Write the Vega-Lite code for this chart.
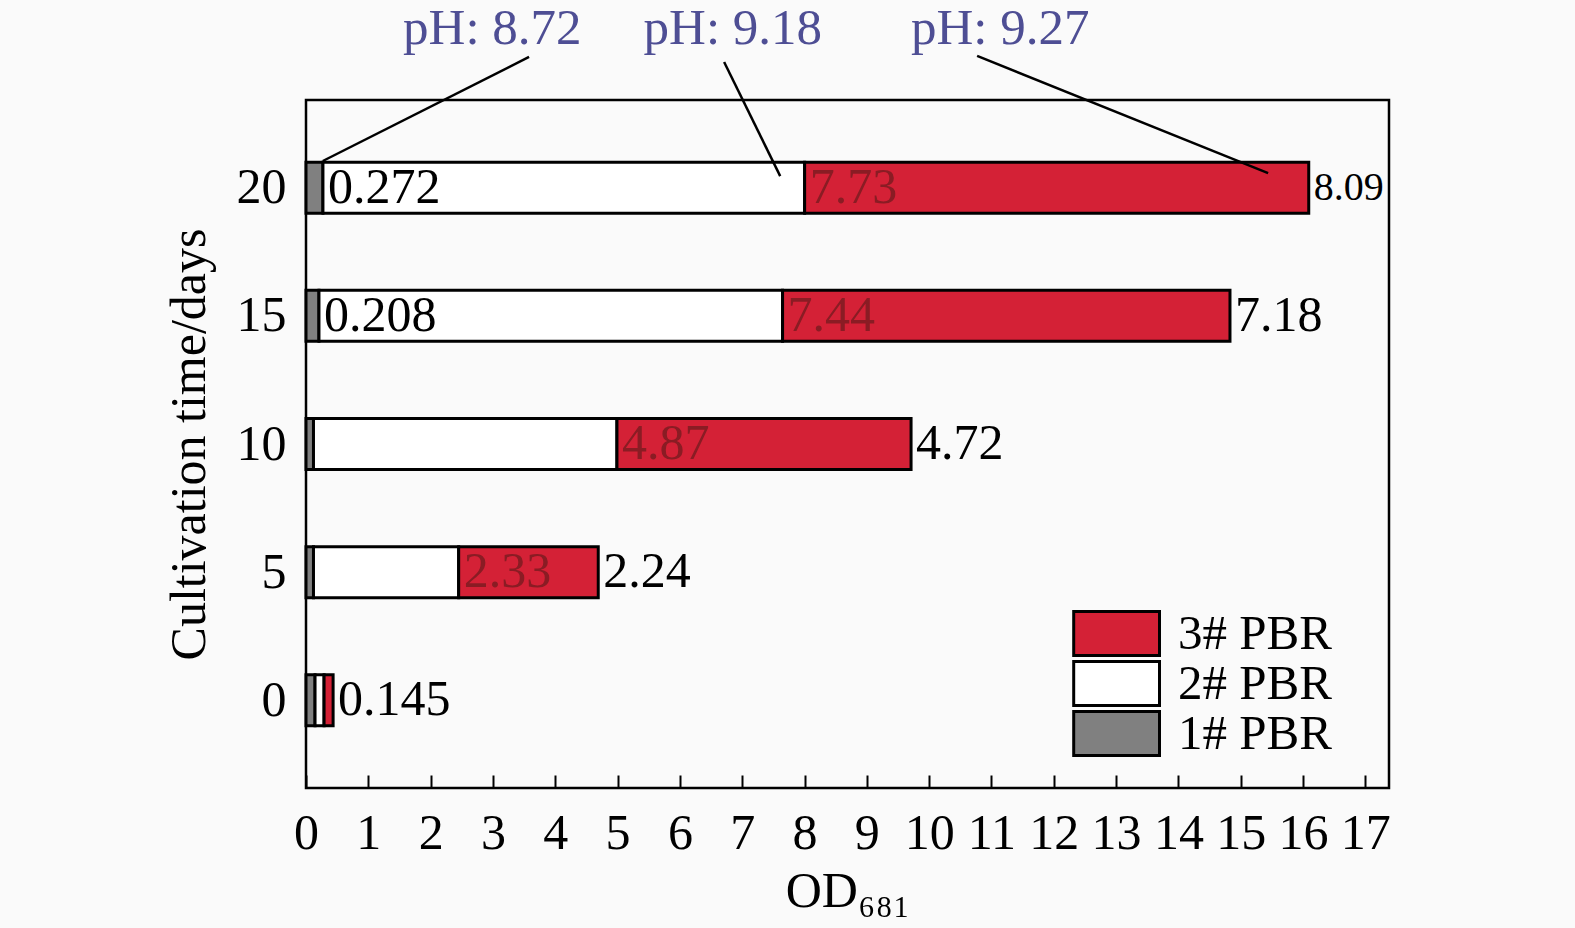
{
  "$schema": "https://vega.github.io/schema/vega-lite/v6.json",
  "width": 1083,
  "height": 688,
  "autosize": "none",
  "padding": {"left": 306, "top": 100, "right": 186, "bottom": 140},
  "background": "#fafafa",
  "config": {
    "view": {"stroke": "black", "strokeWidth": 2.5},
    "font": "Liberation Serif",
    "axis": {"labelFont": "Liberation Serif", "titleFont": "Liberation Serif", "labelColor": "black", "titleColor": "black", "titleFontWeight": "normal", "grid": false}
  },
  "datasets": {
    "bars": [
      {"day": 20, "pbr": "1# PBR", "od": 0.272, "label": "0.272"},
      {"day": 20, "pbr": "2# PBR", "od": 7.73, "label": "7.73"},
      {"day": 20, "pbr": "3# PBR", "od": 8.09, "label": "8.09"},
      {"day": 15, "pbr": "1# PBR", "od": 0.208, "label": "0.208"},
      {"day": 15, "pbr": "2# PBR", "od": 7.44, "label": "7.44"},
      {"day": 15, "pbr": "3# PBR", "od": 7.18, "label": "7.18"},
      {"day": 10, "pbr": "1# PBR", "od": 0.12, "label": null},
      {"day": 10, "pbr": "2# PBR", "od": 4.87, "label": "4.87"},
      {"day": 10, "pbr": "3# PBR", "od": 4.72, "label": "4.72"},
      {"day": 5, "pbr": "1# PBR", "od": 0.12, "label": null},
      {"day": 5, "pbr": "2# PBR", "od": 2.33, "label": "2.33"},
      {"day": 5, "pbr": "3# PBR", "od": 2.24, "label": "2.24"},
      {"day": 0, "pbr": "1# PBR", "od": 0.145, "label": null},
      {"day": 0, "pbr": "2# PBR", "od": 0.145, "label": null},
      {"day": 0, "pbr": "3# PBR", "od": 0.145, "label": "0.145"}
    ],
    "ph": [
      {"label": "pH: 8.72", "tx": 2.99, "ty": 26.2, "x1": 3.58, "y1": 25.1, "x2": 0.27, "y2": 21.04},
      {"label": "pH: 9.18", "tx": 6.85, "ty": 26.2, "x1": 6.71, "y1": 24.9, "x2": 7.61, "y2": 20.45},
      {"label": "pH: 9.27", "tx": 11.14, "ty": 26.2, "x1": 10.77, "y1": 25.14, "x2": 15.44, "y2": 20.57}
    ]
  },
  "layer": [
    {
      "data": {"name": "bars"},
      "transform": [
        {"stack": "od", "groupby": ["day"], "sort": [{"field": "pbr"}], "as": ["x0", "x1"]}
      ],
      "mark": {"type": "bar", "height": 51, "stroke": "black", "strokeWidth": 3, "opacity": 1},
      "encoding": {
        "y": {"field": "day", "type": "quantitative",
          "scale": {"domain": [-3.42, 23.42], "nice": false, "zero": false, "padding": 0},
          "axis": {"values": [0, 5, 10, 15, 20], "ticks": false, "domain": false, "labelFontSize": 50, "labelPadding": 20,
            "title": "Cultivation time/days", "titleFontSize": 50, "titlePadding": 22}},
        "x": {"field": "x0", "type": "quantitative",
          "scale": {"domain": [0, 17.38], "nice": false, "zero": false, "padding": 0},
          "axis": {"values": [0,1,2,3,4,5,6,7,8,9,10,11,12,13,14,15,16,17], "format": "d", "tickSize": -13, "tickWidth": 2, "tickColor": "black",
            "domain": false, "labelFontSize": 50, "labelPadding": 33, "labelFlush": false, "labelOverlap": false,
            "title": "OD₆₈₁", "titleFontSize": 50, "titlePadding": 8}},
        "x2": {"field": "x1"},
        "color": {"field": "pbr", "type": "nominal",
          "scale": {"domain": ["1# PBR", "2# PBR", "3# PBR"], "range": ["#808080", "#ffffff", "#d42136"]},
          "legend": {"values": ["3# PBR", "2# PBR", "1# PBR"], "title": null, "orient": "none", "legendX": 763, "legendY": 509,
            "symbolType": "M-0.9,-1H3V1H-0.9Z", "symbolSize": 1936, "symbolStrokeColor": "black", "symbolStrokeWidth": 3, "symbolOpacity": 1,
            "labelFontSize": 49, "labelFont": "Liberation Serif", "labelColor": "black", "labelOffset": 60, "clipHeight": 49, "rowPadding": 0, "padding": 0}}
      }
    },
    {
      "data": {"name": "bars"},
      "transform": [
        {"stack": "od", "groupby": ["day"], "sort": [{"field": "pbr"}], "as": ["x0", "x1"]},
        {"filter": "datum.label != null"}
      ],
      "mark": {"type": "text", "align": "left", "baseline": "middle", "dx": 5, "font": "Liberation Serif"},
      "encoding": {
        "x": {"field": "x1", "type": "quantitative"},
        "y": {"field": "day", "type": "quantitative"},
        "text": {"field": "label"},
        "size": {"condition": {"test": "datum.x1 > 16", "value": 40}, "value": 50},
        "color": {"condition": {"test": "datum.pbr == '2# PBR'", "value": "#8a1c24"}, "value": "black"}
      }
    },
    {
      "data": {"name": "ph"},
      "mark": {"type": "rule", "stroke": "black", "strokeWidth": 2.5, "clip": false},
      "encoding": {
        "x": {"field": "x1", "type": "quantitative"},
        "y": {"field": "y1", "type": "quantitative"},
        "x2": {"field": "x2"},
        "y2": {"field": "y2"}
      }
    },
    {
      "data": {"name": "ph"},
      "mark": {"type": "text", "align": "center", "baseline": "middle", "fontSize": 51, "color": "#4e4e94", "font": "Liberation Serif", "clip": false},
      "encoding": {
        "x": {"field": "tx", "type": "quantitative"},
        "y": {"field": "ty", "type": "quantitative"},
        "text": {"field": "label"}
      }
    }
  ]
}
